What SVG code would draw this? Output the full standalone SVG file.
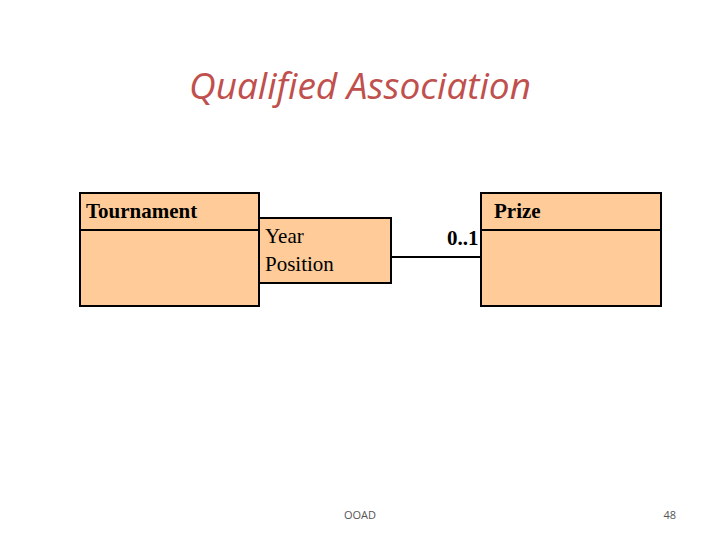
<svg xmlns="http://www.w3.org/2000/svg" width="720" height="540" viewBox="0 0 720 540">
<style>
.box{fill:#ffcc99;stroke:#000;stroke-width:2}
.t{font-family:"Liberation Serif",serif;font-size:21px;fill:#000}
.b{font-weight:bold}
.s{font-family:"Open Sans","Liberation Sans",sans-serif;font-size:11px;fill:#555}
</style>
<rect width="720" height="540" fill="#fff"/>
<text x="360" y="99" text-anchor="middle" font-family="'Open Sans','Liberation Sans',sans-serif" font-style="italic" font-size="37" fill="#c0504d">Qualified Association</text>
<g id="connectors"><line x1="391" y1="257" x2="481" y2="257" stroke="#000" stroke-width="2"/></g>
<g id="tournament"><rect class="box" x="80" y="193" width="179" height="113"/><line x1="80" y1="230" x2="259" y2="230" stroke="#000" stroke-width="2"/><text class="t b" x="86" y="218">Tournament</text></g>
<g id="qualifier"><rect class="box" x="259" y="218" width="132" height="65"/><text class="t" x="265" y="243">Year</text><text class="t" x="265" y="271">Position</text></g>
<g id="prize"><rect class="box" x="481" y="193" width="180" height="113"/><line x1="481" y1="230" x2="661" y2="230" stroke="#000" stroke-width="2"/><text class="t b" x="494" y="218">Prize</text></g>
<text class="t b" x="447" y="245">0..1</text>
<text class="s" x="360" y="519" text-anchor="middle">OOAD</text>
<text class="s" x="676" y="519" text-anchor="end">48</text>
</svg>
